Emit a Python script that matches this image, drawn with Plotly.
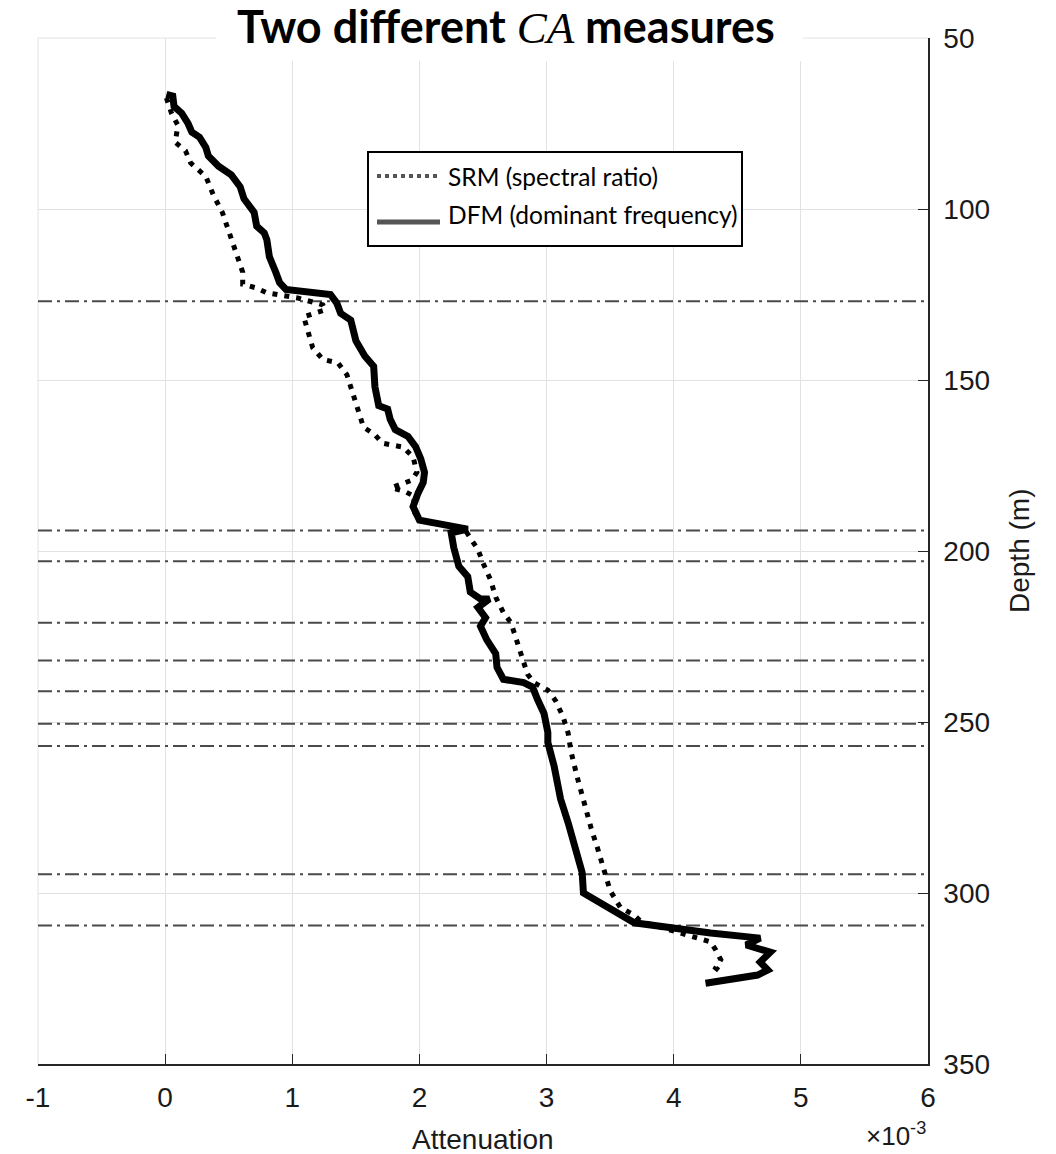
import plotly.graph_objects as go

# Attenuation in units of 1e-3, depth in metres
dfm_att = [0.01, 0.06, 0.07, 0.13, 0.18, 0.21, 0.27, 0.32, 0.34, 0.42, 0.52, 0.59,
           0.62, 0.66, 0.70, 0.72, 0.78, 0.80, 0.82, 0.87, 0.90, 0.95, 1.30, 1.35,
           1.38, 1.46, 1.50, 1.57, 1.64, 1.65, 1.68, 1.75, 1.77, 1.81, 1.91, 1.97,
           2.01, 2.04, 2.03, 1.99, 1.95, 2.00, 2.20, 2.38, 2.25, 2.27, 2.31, 2.38,
           2.40, 2.48, 2.55, 2.46, 2.52, 2.48, 2.53, 2.60, 2.61, 2.66, 2.82, 2.89,
           2.93, 2.98, 3.01, 3.01, 3.06, 3.11, 3.17, 3.21, 3.25, 3.28, 3.29, 3.43,
           3.61, 3.69, 4.29, 4.68, 4.57, 4.76, 4.68, 4.74, 4.66, 4.50, 4.25]
dfm_depth = [66.5, 67, 70, 72, 75, 77.5, 79, 82, 84.5, 87.5, 90, 93.5,
             97, 99, 101, 105, 107, 109, 114, 118.5, 121.5, 123.5, 125, 127.5,
             130.5, 132.5, 138.5, 143, 146, 152, 157.5, 158.5, 161.5, 164.5, 166.5, 169.5,
             173, 177, 180, 183, 187, 191, 192.3, 193.6, 194.7, 199, 204.5, 207.5,
             212, 214, 214, 216.5, 219.5, 222, 226, 230, 234, 237.5, 238.5, 239.8,
             243.5, 247.5, 253, 256, 263, 272.5, 279.5, 284.5, 288.5, 294, 300, 303,
             307, 308.7, 311.7, 313.2, 315.2, 317.3, 320.2, 322.5, 324, 325, 326.4]

srm_att = [0.01, 0.05, 0.10, 0.08, 0.16, 0.20, 0.32, 0.38, 0.45, 0.51, 0.57, 0.61,
           0.61, 0.71, 0.80, 1.04, 1.24, 1.26, 1.09, 1.13, 1.16, 1.24, 1.36, 1.43,
           1.47, 1.51, 1.56, 1.65, 1.71, 1.87, 1.95, 1.98, 1.94, 1.78, 1.88, 1.96,
           1.95, 2.00, 2.35, 2.41, 2.46, 2.50, 2.56, 2.60, 2.66, 2.72, 2.76, 2.81,
           2.85, 2.90, 3.01, 3.07, 3.13, 3.17, 3.19, 3.24, 3.29, 3.35, 3.40, 3.45,
           3.50, 3.58, 3.69, 3.74, 4.29, 4.33, 4.37, 4.33, 4.38]
srm_depth = [67.5, 72, 75.5, 80.5, 83, 86.5, 90.5, 96, 101, 108, 114, 118.5,
             122, 123, 124.5, 126, 128, 129.5, 131.5, 137.5, 140.5, 144, 145, 148.5,
             153, 158, 163.8, 166, 168.5, 169.6, 172.5, 177, 179.3, 181.5, 182.5, 184,
             188, 191, 193.3, 196.8, 199.5, 203.5, 208.5, 213.5, 218, 221, 226, 231,
             236, 238.5, 240.7, 243.7, 248.5, 253.3, 258.3, 266, 273, 281, 286.8, 292.5,
             299.3, 304.2, 306.5, 308.3, 314.3, 316.6, 319.5, 321.9, 323.4]

# Depths of the interpreted horizons
horizon_depths = [127, 194, 203, 221, 232, 241, 250.5, 257, 294.5, 309.5]

x_ticks = [-1, 0, 1, 2, 3, 4, 5, 6]
y_ticks = [50, 100, 150, 200, 250, 300, 350]

W, H = 1056, 1154
ML, MR, MT, MB = 38, 128, 38, 90
PW, PH = W - ML - MR, H - MT - MB


def px(xp):
    return (xp - ML) / PW


def py(yp):
    return 1 - (yp - MT) / PH


INK = "#262626"
GRID = "#e2e2e2"
SANS = "Liberation Sans, Arial, sans-serif"
TICK_FONT = dict(family=SANS, size=28, color="#1a1a1a")

fig = go.Figure()

for d in horizon_depths:
    fig.add_trace(go.Scatter(
        x=[x_ticks[0], x_ticks[-1]], y=[d, d], mode="lines",
        line=dict(color="#4a4a4a", width=2, dash="14px,5px,3px,5px"),
        showlegend=False, hoverinfo="skip"))

fig.add_trace(go.Scatter(
    x=srm_att, y=srm_depth, mode="lines", name="SRM (spectral ratio)",
    line=dict(color="black", width=5, dash="5px,7px"), showlegend=False))
fig.add_trace(go.Scatter(
    x=dfm_att, y=dfm_depth, mode="lines", name="DFM (dominant frequency)",
    line=dict(color="black", width=7), showlegend=False))

shapes = [
    # grid edges on the open left and top sides of the box
    dict(type="line", xref="paper", yref="paper", x0=0, x1=0, y0=0, y1=1,
         line=dict(color=GRID, width=1), layer="below"),
    dict(type="line", xref="paper", yref="paper", x0=0, x1=1, y0=1, y1=1,
         line=dict(color=GRID, width=1), layer="below"),
    # white band behind the title
    dict(type="rect", xref="paper", yref="paper", x0=px(216), x1=px(803),
         y0=py(61), y1=py(0), line=dict(width=0), fillcolor="white", layer="above"),
    # legend box and samples
    dict(type="rect", xref="paper", yref="paper", x0=px(368), x1=px(742),
         y0=py(246), y1=py(152), line=dict(color="black", width=2),
         fillcolor="white", layer="above"),
    dict(type="line", xref="paper", yref="paper", x0=px(377), x1=px(438),
         y0=py(176), y1=py(176), line=dict(color="#555555", width=4, dash="4px,4px"),
         layer="above"),
    dict(type="line", xref="paper", yref="paper", x0=px(377), x1=px(440),
         y0=py(222), y1=py(222), line=dict(color="#555555", width=5),
         layer="above"),
]

LEG_FONT = dict(family="Lato, sans-serif", size=24.5, color="black")

annotations = [
    dict(text="<b>Two different </b><span style=\"font-family:'Liberation Serif'\"><i>CA</i></span><b> measures</b>",
         xref="paper", yref="paper", x=px(506), y=py(26), xanchor="center", yanchor="middle",
         showarrow=False, font=dict(family="Lato, sans-serif", size=45, color="black")),
    dict(text="SRM (spectral ratio)", xref="paper", yref="paper", x=px(446), y=py(177),
         xanchor="left", yanchor="middle", showarrow=False, font=LEG_FONT),
    dict(text="DFM (dominant frequency)", xref="paper", yref="paper", x=px(446), y=py(214),
         xanchor="left", yanchor="middle", showarrow=False, font=LEG_FONT),
    dict(text="Attenuation", xref="paper", yref="paper", x=px(483), y=py(1139),
         xanchor="center", yanchor="middle", showarrow=False,
         font=dict(family=SANS, size=28, color="#1a1a1a")),
    dict(text="×10<sup>-3</sup>", xref="paper", yref="paper", x=px(928), y=py(1153),
         xanchor="right", yanchor="bottom", showarrow=False,
         font=dict(family=SANS, size=26, color="#1a1a1a")),
    dict(text="Depth (m)", xref="paper", yref="paper", x=px(1019), y=py(551),
         xanchor="center", yanchor="middle", textangle=-90, showarrow=False,
         font=dict(family=SANS, size=28, color="#1a1a1a")),
]

fig.update_layout(
    width=W, height=H,
    margin=dict(l=ML, r=MR, t=MT, b=MB),
    paper_bgcolor="white", plot_bgcolor="white",
    shapes=shapes, annotations=annotations,
    showlegend=False,
    xaxis=dict(range=[x_ticks[0], x_ticks[-1]], tickvals=x_ticks,
               ticktext=[str(v) for v in x_ticks],
               showgrid=True, gridcolor=GRID, gridwidth=1, zeroline=False,
               showline=True, linecolor=INK, linewidth=1.5,
               ticks="inside", ticklen=10, tickwidth=1.2, tickcolor=INK,
               tickfont=TICK_FONT, ticklabelstandoff=8),
    yaxis=dict(range=[y_ticks[-1], y_ticks[0]], tickvals=y_ticks, side="right",
               showgrid=True, gridcolor=GRID, gridwidth=1, zeroline=False,
               showline=True, linecolor=INK, linewidth=1.5,
               ticks="inside", ticklen=10, tickwidth=1.2, tickcolor=INK,
               tickfont=TICK_FONT, ticklabelstandoff=8),
)

fig.write_html("out.html")
